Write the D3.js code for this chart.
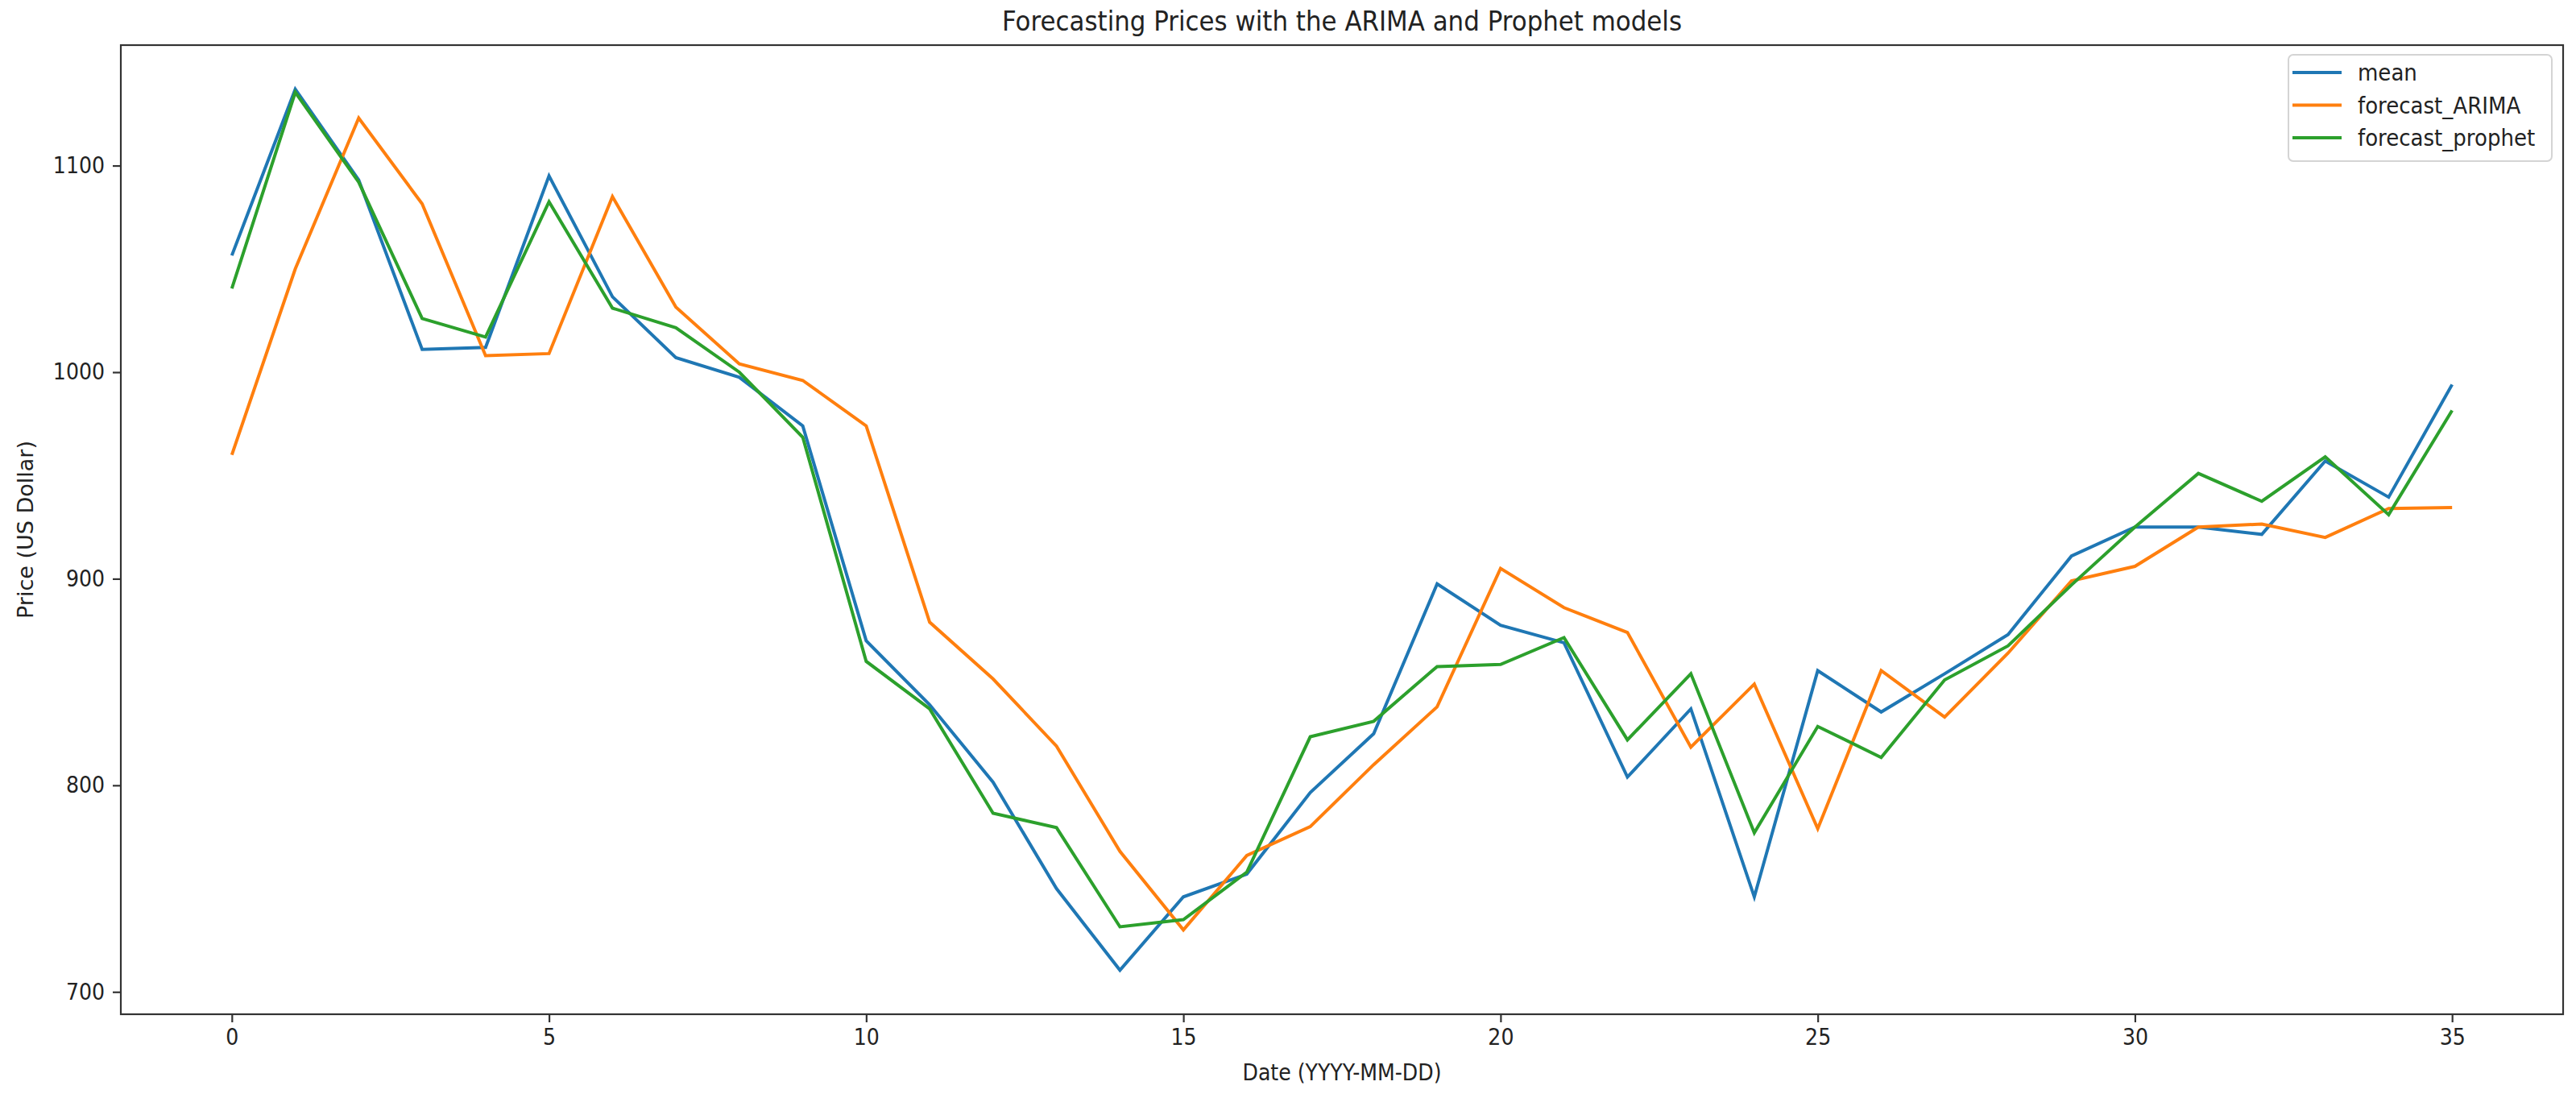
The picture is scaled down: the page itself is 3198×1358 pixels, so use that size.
<!DOCTYPE html>
<meta charset="utf-8">
<script src="https://d3js.org/d3.v7.min.js"></script>
<style>
    body { margin: 0; background: #fff; }
    text { font-family: "DejaVu Sans", sans-serif; fill: #222; }
</style>
<div id="my_dataviz"></div>
<script>
    // values
    const steps = d3.range(0, 36);
    const meanPrice = [1056.5, 1137, 1093, 1011, 1012, 1095, 1036.5, 1007, 997.5, 974,
                       870, 839, 801.5, 750, 710.5, 746, 757, 796.5, 825, 897.5,
                       877.5, 869, 804, 837, 746, 855.5, 835.5, 854, 873, 911,
                       925, 925, 921.5, 957, 939.5, 994];
    const arimaPrice = [960, 1050, 1123, 1081.5, 1008, 1009, 1085, 1031.5, 1004, 996,
                        974, 879, 851.5, 819, 768, 730, 766, 780, 810, 838,
                        905, 886, 874, 818.5, 849, 779, 855.5, 833, 864, 899,
                        906, 925, 926.5, 920, 934, 934.5];
    const prophetPrice = [1040.5, 1135.5, 1092, 1026, 1017, 1082.5, 1031, 1021.5, 1000, 968.5,
                          860, 837, 786.5, 779.5, 731.5, 735, 758, 823.5, 831, 857.5,
                          858.5, 871.5, 822, 854, 777, 828.5, 813.5, 851, 867.5, 897,
                          925, 951, 937.5, 959, 931, 981.5];
    const seriesNames = ["mean", "forecast_ARIMA", "forecast_prophet"];
    const xTicks = [0, 5, 10, 15, 20, 25, 30, 35];
    const yTicks = [700, 800, 900, 1000, 1100];

    const W = 3198, H = 1358;
    const margin = {top: 56, right: 16, bottom: 99, left: 150},
          width = W - margin.left - margin.right,
          height = H - margin.top - margin.bottom;

    const color = d3.scaleOrdinal()
                    .domain(seriesNames)
                    .range(["#1f77b4", "#ff7f0e", "#2ca02c"]);

    const series = [
        {name: "mean", values: meanPrice},
        {name: "forecast_ARIMA", values: arimaPrice},
        {name: "forecast_prophet", values: prophetPrice}
    ];

    const svg0 = d3.select("#my_dataviz")
                   .append("svg")
                     .attr("width", W)
                     .attr("height", H);
    const svg = svg0.append("g")
                    .attr("transform", `translate(${margin.left},${margin.top})`);

    // matplotlib style 5% padding
    const xPad = (d3.max(steps) - d3.min(steps)) * 0.05;
    const x = d3.scaleLinear()
                .domain([d3.min(steps) - xPad, d3.max(steps) + xPad])
                .range([0, width]);
    const all = meanPrice.concat(arimaPrice, prophetPrice);
    const yPad = (d3.max(all) - d3.min(all)) * 0.05;
    const y = d3.scaleLinear()
                .domain([d3.min(all) - yPad, d3.max(all) + yPad])
                .range([height, 0]);

    // the picture is a bit squeezed sideways, so squeeze the horizontal text too
    function squeeze(sel, k) {
        sel.each(function() {
            const w = this.getComputedTextLength();
            d3.select(this).attr("textLength", w * k).attr("lengthAdjust", "spacingAndGlyphs");
        });
    }

    // lines
    const line = d3.line()
                   .x((d, i) => x(steps[i]))
                   .y(d => y(d));
    svg.selectAll("myPath")
       .data(series)
       .join("path")
         .attr("d", d => line(d.values))
         .style("fill", "none")
         .style("stroke", d => color(d.name))
         .style("stroke-width", 4)
         .style("stroke-linejoin", "miter");

    // axes
    const xAxis = svg.append("g")
        .attr("transform", `translate(0,${height})`)
        .call(d3.axisBottom(x).tickValues(xTicks).tickSize(10).tickPadding(8).tickFormat(d3.format("d")));
    const yAxis = svg.append("g")
        .call(d3.axisLeft(y).tickValues(yTicks).tickSize(10).tickPadding(10).tickFormat(d3.format("d")));
    [xAxis, yAxis].forEach(a => {
        a.select(".domain").remove();
        a.selectAll("line").attr("stroke", "#333").attr("stroke-width", 2.2);
        a.selectAll("text").attr("font-size", 28).attr("font-family", "DejaVu Sans").attr("fill", "#222");
        squeeze(a.selectAll("text"), 0.9);
    });

    // frame
    svg.append("rect")
       .attr("width", width)
       .attr("height", height)
       .attr("fill", "none")
       .attr("stroke", "#333")
       .attr("stroke-width", 2.2);

    // titles
    svg.append("text")
       .attr("x", width / 2)
       .attr("y", -18)
       .attr("text-anchor", "middle")
       .attr("font-size", 33.6)
       .text("Forecasting Prices with the ARIMA and Prophet models")
       .call(squeeze, 0.92);
    svg.append("text")
       .attr("x", width / 2)
       .attr("y", height + 82)
       .attr("text-anchor", "middle")
       .attr("font-size", 28)
       .text("Date (YYYY-MM-DD)")
       .call(squeeze, 0.9);
    svg.append("text")
       .attr("transform", `translate(${41 - margin.left},${height / 2}) rotate(-90)`)
       .attr("text-anchor", "middle")
       .attr("font-size", 27)
       .text("Price (US Dollar)");

    // legend
    const legend = svg.append("g")
        .attr("transform", `translate(${width - 341},12)`);
    legend.append("rect")
          .attr("width", 327)
          .attr("height", 132)
          .attr("rx", 6)
          .attr("fill", "#fff")
          .attr("stroke", "#d4d4d4")
          .attr("stroke-width", 2);
    legend.selectAll("mylines")
          .data(seriesNames)
          .join("line")
            .attr("x1", 5)
            .attr("x2", 66)
            .attr("y1", (d, i) => 22 + i * 40.5)
            .attr("y2", (d, i) => 22 + i * 40.5)
            .attr("stroke", d => color(d))
            .attr("stroke-width", 4);
    legend.selectAll("mylabels")
          .data(seriesNames)
          .join("text")
            .attr("x", 86)
            .attr("y", (d, i) => 32 + i * 40.5)
            .attr("font-size", 28)
            .text(d => d)
            .call(squeeze, 0.93);
</script>
